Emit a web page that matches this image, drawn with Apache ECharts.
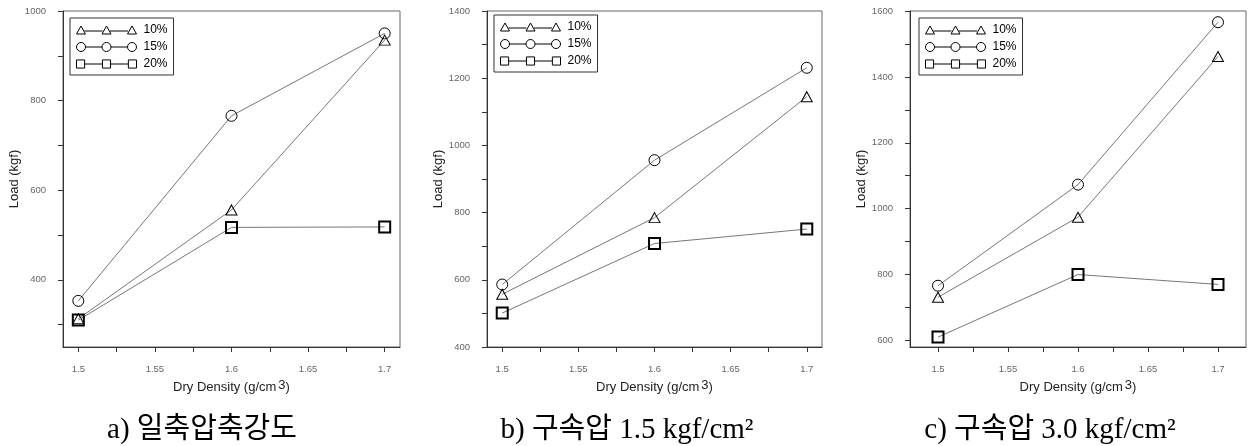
<!DOCTYPE html>
<html>
<head>
<meta charset="utf-8">
<script src="https://cdn.jsdelivr.net/npm/echarts@6/dist/echarts.min.js"></script>
<style>
html,body{margin:0;padding:0;background:#fff;}
#chart{width:1248px;height:446px;}
</style>
</head>
<body>
<div id="chart"></div>
<script>
// ---- data ----
const densities = [1.5, 1.6, 1.7];
const seriesNames = ['10%', '15%', '20%'];

const loadA10 = [313, 556, 935];
const loadA15 = [353, 766, 950];
const loadA20 = [310, 517, 518];

const loadB10 = [557, 785, 1145];
const loadB15 = [586, 956, 1231];
const loadB20 = [501, 708, 751];

const loadC10 = [731, 974, 1462];
const loadC15 = [766, 1073, 1566];
const loadC20 = [610, 800, 770];

const xTickValues = [1.5, 1.525, 1.55, 1.575, 1.6, 1.625, 1.65, 1.675, 1.7];
const xLabelValues = [1.5, 1.55, 1.6, 1.65, 1.7];

const yTicksA = [300, 400, 500, 600, 700, 800, 900, 1000];
const yLabelsA = [400, 600, 800, 1000];
const yTicksB = [400, 500, 600, 700, 800, 900, 1000, 1100, 1200, 1300, 1400];
const yLabelsB = [400, 600, 800, 1000, 1200, 1400];
const yTicksC = [600, 700, 800, 900, 1000, 1100, 1200, 1300, 1400, 1500, 1600];
const yLabelsC = [600, 800, 1000, 1200, 1400, 1600];

const captions = ['a) 일축압축강도', 'b) 구속압 1.5 kgf/cm²', 'c) 구속압 3.0 kgf/cm²'];

// ---- layout ----
const panels = [
  {left: 63, width: 337, xMin: 1.49, xMax: 1.71, yMin: 250, yMax: 1000, yTicks: yTicksA, yLabels: yLabelsA,
   data: [loadA10, loadA15, loadA20], legend: [70, 18], cap: 202},
  {left: 487, width: 335, xMin: 1.49, xMax: 1.71, yMin: 400, yMax: 1400, yTicks: yTicksB, yLabels: yLabelsB,
   data: [loadB10, loadB15, loadB20], legend: [494, 15], cap: 627},
  {left: 910, width: 336, xMin: 1.48, xMax: 1.72, yMin: 580, yMax: 1600, yTicks: yTicksC, yLabels: yLabelsC,
   data: [loadC10, loadC15, loadC20], legend: [919, 18], cap: 1050}
];

const FONT = 'Liberation Sans, Arial, sans-serif';

function markers(kind) {
  const cs = [4.5, 30, 55.5];
  let p = '';
  if (kind === 'tri') {
    cs.forEach(c => { p += `M${c-4.5} 9 L${c} 1 L${c+4.5} 9 Z `; });
    p += 'M8 6 L26 6 M33.5 6 L51.5 6';
  } else if (kind === 'cir') {
    cs.forEach(c => { p += `M${c-4.5} 4.5 A4.5 4.5 0 1 0 ${c+4.5} 4.5 A4.5 4.5 0 1 0 ${c-4.5} 4.5 Z `; });
    p += 'M9 4.5 L25.5 4.5 M34.5 4.5 L51 4.5';
  } else {
    cs.forEach(c => { p += `M${c-4} 0.5 L${c+4} 0.5 L${c+4} 8.5 L${c-4} 8.5 Z `; });
    p += 'M8.5 4.5 L26 4.5 M34 4.5 L51.5 4.5';
  }
  return 'path://' + p;
}
const legendIcons = [markers('tri'), markers('cir'), markers('sq')];
const symbols = ['triangle', 'circle', 'rect'];
const symbolSizes = [[11, 10], 11, 11];
const borderWidths = [1, 1, 2];

const option = {
  animation: false,
  backgroundColor: '#fff',
  grid: [], xAxis: [], yAxis: [], series: [], legend: [], graphic: []
};

panels.forEach((p, i) => {
  option.grid.push({left: p.left, top: 11, width: p.width, height: 336, show: true,
    borderColor: '#666', borderWidth: 1, backgroundColor: 'transparent', containLabel: false});
  option.xAxis.push({
    type: 'value', gridIndex: i, min: p.xMin, max: p.xMax,
    name: 'Dry Density (g/cm{s|3})', nameLocation: 'middle', nameGap: 31,
    nameTextStyle: {fontFamily: FONT, fontSize: 13, color: '#222',
      rich: {s: {fontFamily: FONT, fontSize: 13, color: '#222', padding: [0, 0, 5, 2]}}},
    axisLine: {show: true, onZero: false, lineStyle: {color: '#333', width: 1}},
    axisTick: {show: true, inside: false, length: 5, customValues: xTickValues, lineStyle: {color: '#333'}},
    axisLabel: {customValues: xLabelValues, margin: 17, fontFamily: FONT, fontSize: 9.5, color: '#666',
      formatter: v => String(v)},
    splitLine: {show: false}
  });
  option.yAxis.push({
    type: 'value', gridIndex: i, min: p.yMin, max: p.yMax,
    name: 'Load (kgf)', nameLocation: 'middle', nameGap: 42, nameRotate: 90,
    nameTextStyle: {fontFamily: FONT, fontSize: 13, color: '#222'},
    axisLine: {show: true, onZero: false, lineStyle: {color: '#333', width: 1}},
    axisTick: {show: true, inside: false, length: 5, customValues: p.yTicks, lineStyle: {color: '#333'}},
    axisLabel: {customValues: p.yLabels, margin: 17, fontFamily: FONT, fontSize: 9.5, color: '#666',
      formatter: v => String(v)},
    splitLine: {show: false}
  });
  seriesNames.forEach((nm, k) => {
    option.series.push({
      type: 'line', name: nm, xAxisIndex: i, yAxisIndex: i,
      data: densities.map((d, j) => [d, p.data[k][j]]),
      symbol: symbols[k], symbolSize: symbolSizes[k], z: 2 + k,
      lineStyle: {color: '#777', width: 1},
      itemStyle: {color: 'rgba(0,0,0,0)', borderColor: '#000', borderWidth: borderWidths[k]},
      emphasis: {disabled: true}
    });
  });
  option.legend.push({
    left: p.legend[0], top: p.legend[1], orient: 'vertical',
    padding: [6, 6, 5, 6], itemGap: 5, itemWidth: 60, itemHeight: 9,
    borderColor: '#333', borderWidth: 1, backgroundColor: '#fff',
    selectedMode: false,
    textStyle: {fontFamily: FONT, fontSize: 12, color: '#000', padding: [0, 0, 0, 2]},
    itemStyle: {color: 'rgba(0,0,0,0)', borderColor: '#000', borderWidth: 1},
    data: seriesNames.map((nm, k) => ({name: nm, icon: legendIcons[k]}))
  });
});

// captions below each panel
option.graphic = panels.map((p, i) => ({
  type: 'text', x: p.cap, y: 430,
  style: {text: captions[i], textAlign: 'center', textVerticalAlign: 'middle',
    font: '29px "Liberation Serif", "Noto Sans CJK KR", serif', fill: '#000'}
}));

const chart = echarts.init(document.getElementById('chart'), null, {renderer: 'canvas'});
chart.setOption(option);
</script>
</body>
</html>
